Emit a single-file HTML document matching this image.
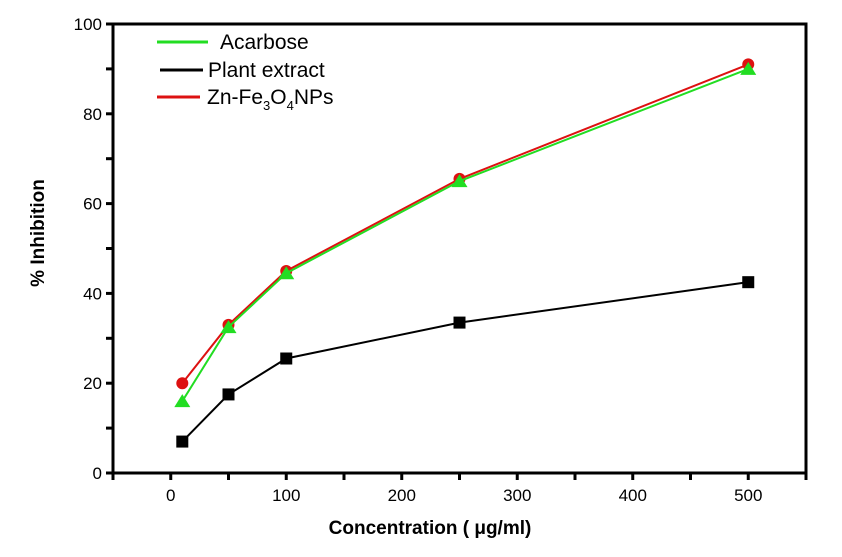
<!DOCTYPE html>
<html><head><meta charset="utf-8"><style>
body{margin:0;background:#fff;width:842px;height:557px;overflow:hidden}
svg{display:block;font-family:"Liberation Sans",Arial,sans-serif}
</style></head><body>
<svg id="chart" width="842" height="557">
<g id="axes"></g><g id="series"></g>
<g>
<line x1="157" y1="42" x2="208" y2="42" stroke="#22dd22" stroke-width="3"/>
<text x="220" y="49" font-size="21">Acarbose</text>
<line x1="160" y1="70" x2="203" y2="70" stroke="#000" stroke-width="3"/>
<text x="208" y="77" font-size="21">Plant extract</text>
<line x1="157" y1="97" x2="200" y2="97" stroke="#dd1111" stroke-width="3"/>
<text x="207" y="104" font-size="21">Zn-Fe<tspan font-size="13" dy="6">3</tspan><tspan dy="-6">O</tspan><tspan font-size="13" dy="6">4</tspan><tspan dy="-6">NPs</tspan></text>
</g>
<text x="44" y="233" font-size="19" font-weight="bold" text-anchor="middle" transform="rotate(-90 44 233)">% Inhibition</text>
<text x="430" y="534" font-size="19" font-weight="bold" text-anchor="middle">Concentration ( μg/ml)</text>
</svg>
<script>
const concentrations=[10,50,100,250,500];
const acarbose=[16,32.5,44.5,65,90];
const plantExtract=[7,17.5,25.5,33.5,42.5];
const znNPs=[20,33,45,65.5,91];
const xTicks=[0,100,200,300,400,500];
const yTicks=[0,20,40,60,80,100];
const NS="http://www.w3.org/2000/svg";
const X0=113,X1=806,Y0=473,Y1=24,xmin=-50,xmax=550,ymin=0,ymax=100;
const sx=v=>X0+(v-xmin)/(xmax-xmin)*(X1-X0);
const sy=v=>Y0-(v-ymin)/(ymax-ymin)*(Y0-Y1);
function mk(tag,attrs,parent){const e=document.createElementNS(NS,tag);for(const k in attrs)e.setAttribute(k,attrs[k]);parent.appendChild(e);return e;}
const axes=document.getElementById('axes'),ser=document.getElementById('series');
const frame=mk('rect',{x:X0,y:Y1,width:X1-X0,height:Y0-Y1,fill:'none',stroke:'#000','stroke-width':3},axes);


for(let v=-50;v<=550;v+=50){
 const t=mk('line',{x1:sx(v),x2:sx(v),y1:Y0,y2:Y0+7,stroke:'#000','stroke-width':3},axes);
 
 
}
xTicks.forEach(v=>{
 const t=mk('text',{x:sx(v),y:Y0+28,'font-size':17,'text-anchor':'middle'},axes);t.textContent=v;
 
 
});
for(let v=0;v<=100;v+=10){
 const t=mk('line',{x1:X0-7,x2:X0,y1:sy(v),y2:sy(v),stroke:'#000','stroke-width':3},axes);
 
 
}
yTicks.forEach(v=>{
 const t=mk('text',{x:X0-11,y:sy(v)+6,'font-size':17,'text-anchor':'end'},axes);t.textContent=v;
 
 
});
function series(vals,color,shape,name){
 const g=mk('g',{},ser);
 
 
 const pts=concentrations.map((c,i)=>sx(c)+','+sy(vals[i])).join(' ');
 const pl=mk('polyline',{points:pts,fill:'none',stroke:color,'stroke-width':2},g);
 
 
 concentrations.forEach((c,i)=>{
  const x=sx(c),y=sy(vals[i]);let m;
  if(shape==='sq')m=mk('rect',{x:x-6,y:y-6,width:12,height:12,fill:color},g);
  else if(shape==='ci')m=mk('circle',{cx:x,cy:y,r:6,fill:color},g);
  else m=mk('polygon',{points:`${x},${y-7} ${x-8},${y+6} ${x+8},${y+6}`,fill:color},g);
  
  
 });
}
series(plantExtract,'#000','sq','plant-extract');
series(znNPs,'#dd1111','ci','zn-fe3o4-nps');
series(acarbose,'#22dd22','tri','acarbose');
</script>
</body></html>
